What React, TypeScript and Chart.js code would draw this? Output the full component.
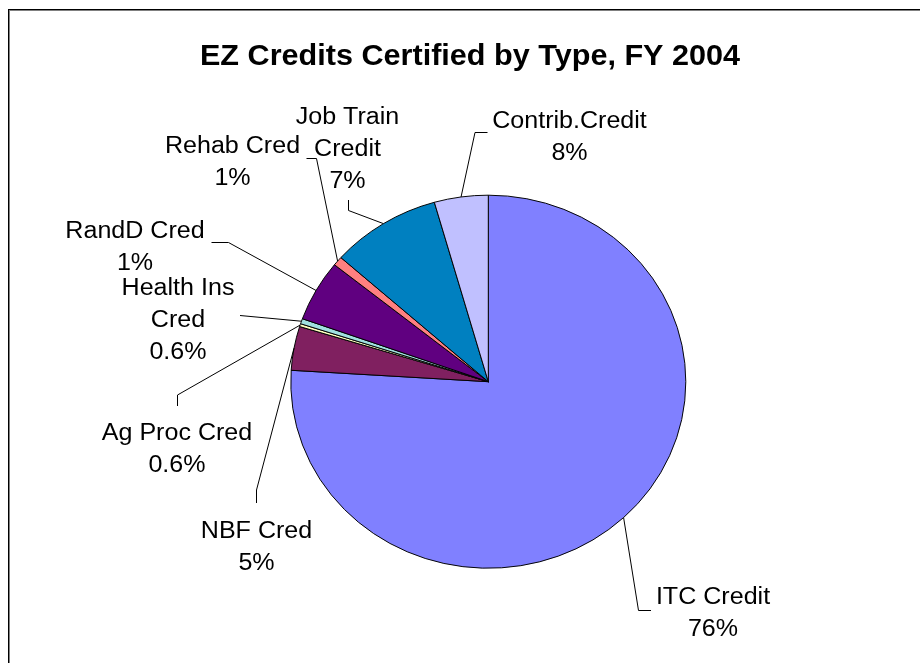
import React, { useEffect, useRef } from "react";
import { Chart, registerables } from "chart.js";

Chart.register(...registerables);

// ---- data (clockwise from 12 o'clock) ----
const categories = [
  "ITC Credit",
  "NBF Cred",
  "Ag Proc Cred",
  "Health Ins Cred",
  "RandD Cred",
  "Rehab Cred",
  "Job Train Credit",
  "Contrib.Credit",
];
const shares = [75.9, 3.8, 0.25, 0.45, 5.3, 0.8, 9.0, 4.4];
const percentLabels = ["76%", "5%", "0.6%", "0.6%", "1%", "1%", "7%", "8%"];
const nameLines = [
  ["ITC Credit"],
  ["NBF Cred"],
  ["Ag Proc Cred"],
  ["Health Ins", "Cred"],
  ["RandD Cred"],
  ["Rehab Cred"],
  ["Job Train", "Credit"],
  ["Contrib.Credit"],
];
const titleText = "EZ Credits Certified by Type, FY 2004";

// ---- styles / layout ----
const sliceColors = [
  "#8080FF",
  "#802060",
  "#FFFFC0",
  "#A0E0E0",
  "#600080",
  "#FF8080",
  "#0080C0",
  "#C0C0FF",
];
const KY = 187 / 198; // vertical squash of the pie
const SX_LABEL = 1.09;
const SX_TITLE = 1.055;
const LINE_H = 32;
// label centre x, first baseline, leader path after the pie-edge point
const labelLayout = [
  { cx: 713, y: 604, path: [[638.5, 610.5], [651, 610.5]] },
  { cx: 256.5, y: 537.5, path: [[256.5, 490], [256.5, 503]] },
  { cx: 177, y: 440, path: [[177.5, 395], [177.5, 406]] },
  { cx: 178, y: 295, path: [[240, 315.5]] },
  { cx: 135, y: 238, path: [[228.5, 242.5], [211.5, 242.5]] },
  { cx: 232.5, y: 152.5, path: [[316.5, 158.5], [306.5, 158.5]] },
  { cx: 347.5, y: 123.5, path: [[348.5, 210.5], [348.5, 200]] },
  { cx: 569.5, y: 127.5, path: [[475, 132.5], [487.5, 132.5]] },
];

const decorPlugin = {
  id: "decor",
  beforeDatasetsDraw(chart: any) {
    const el = chart.getDatasetMeta(0).data[0];
    const ctx = chart.ctx;
    ctx.save();
    ctx.translate(el.x, el.y);
    ctx.scale(1, KY);
    ctx.translate(-el.x, -el.y);
  },
  afterDatasetsDraw(chart: any) {
    chart.ctx.restore();
  },
  afterDraw(chart: any) {
    const ctx = chart.ctx;
    ctx.save();
    // frame
    ctx.fillStyle = "#000";
    ctx.fillRect(8, 9, 920, 1);
    ctx.fillRect(8, 9, 1, 663);
    ctx.fillStyle = "#808080";
    ctx.fillRect(9, 10, 920, 1);
    ctx.fillRect(9, 10, 1, 663);

    // title
    ctx.fillStyle = "#000";
    ctx.textAlign = "center";
    ctx.textBaseline = "alphabetic";
    ctx.save();
    ctx.translate(470, 64.5);
    ctx.scale(SX_TITLE, 1);
    ctx.font = "bold 29px 'Liberation Sans', Arial, sans-serif";
    ctx.fillText(titleText, 0, 0);
    ctx.restore();

    // leader lines + labels
    const meta = chart.getDatasetMeta(0);
    ctx.strokeStyle = "#000";
    ctx.lineWidth = 1;
    meta.data.forEach((arc: any, i: number) => {
      const mid = (arc.startAngle + arc.endAngle) / 2;
      const r = arc.outerRadius;
      const px = arc.x + r * Math.cos(mid);
      const py = arc.y + r * Math.sin(mid) * KY;
      const lay = labelLayout[i];
      ctx.beginPath();
      ctx.moveTo(px, py);
      lay.path.forEach((p) => ctx.lineTo(p[0], p[1]));
      ctx.stroke();

      const lines = [...nameLines[i], percentLabels[i]];
      ctx.font = "23px 'Liberation Sans', Arial, sans-serif";
      lines.forEach((t, k) => {
        ctx.save();
        ctx.translate(lay.cx, lay.y + k * LINE_H);
        ctx.scale(SX_LABEL, 1);
        ctx.fillText(t, 0, 0);
        ctx.restore();
      });
    });
    ctx.restore();
  },
};

export default function App() {
  const ref = useRef<HTMLCanvasElement>(null);
  useEffect(() => {
    if (!ref.current) return;
    const chart = new Chart(ref.current, {
      type: "pie",
      data: {
        labels: categories,
        datasets: [
          {
            data: shares,
            backgroundColor: sliceColors,
            borderColor: "#000",
            borderWidth: 1,
          },
        ],
      },
      options: {
        animation: false,
        responsive: true,
        maintainAspectRatio: false,
        events: [],
        layout: {
          padding: { left: 290.3, right: 233.7, top: 183.7, bottom: 83.3 },
        },
        plugins: {
          legend: { display: false },
          title: { display: false },
          tooltip: { enabled: false },
        },
      },
      plugins: [decorPlugin],
    });
    return () => chart.destroy();
  }, []);
  return (
    <div
      style={{
        position: "fixed",
        left: 0,
        top: 0,
        width: 920,
        height: 663,
        background: "#fff",
      }}
    >
      <canvas ref={ref} />
    </div>
  );
}
